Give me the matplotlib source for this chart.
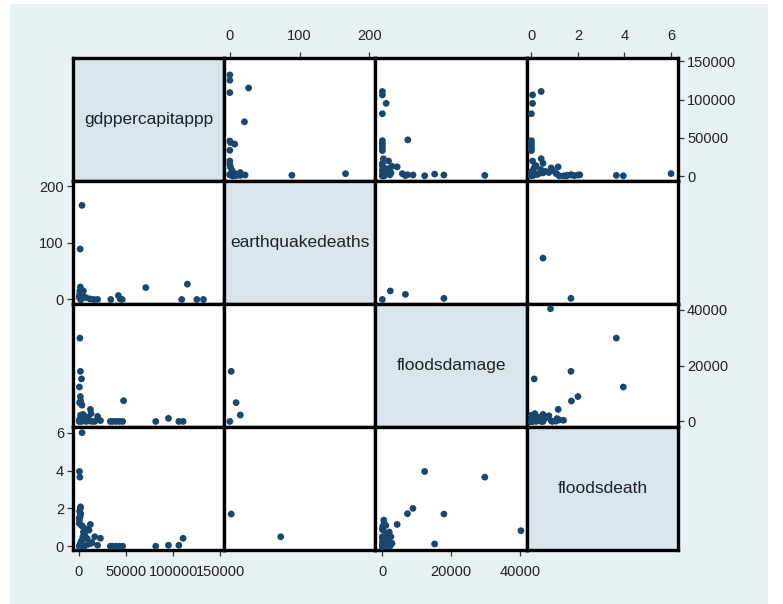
import numpy as np
import matplotlib.pyplot as plt
from matplotlib.patches import Rectangle

nan = np.nan

# variable names (diagonal labels)
names = ["gdppercapitappp", "earthquakedeaths", "floodsdamage", "floodsdeath"]

# one entry per observation, nan = missing (graph matrix drops pairs with a missing value)
gdppercapitappp = [
    3500, 1500, 71000, 115000, 109000, 125000, 132000, 34000, 42000, 46000,
    44000, 1800, 1200, 3000, 5000, 8000, 12000, 16000, 20000, 500,
    2500, 1800, 2000, 1000, 5000, nan,
    1300, 800, 3000, nan, 1800, 2200, 12400, 3600, 47500, 3500,
    110500, 106000, 95000, 81500, 46500, 43000, 39500, 36000, 33500, 23000,
    1000, 700, 1500, 2000,
    600, 1500, 2500, 4000, 4500, 5000, 6500, 9000, 11000, 13000,
    4200, 700, 800, 3000, 17000, 20000, 8000, 2000, 14000, 6000, 10000,
]
earthquakedeaths = [
    166, 89, 21, 27, 0, 0, 0, 0, 7, 0,
    1, 22, 15, 11, 5, 3, 1, 0, 0, 4,
    0, 2, 0, 9, 15, 73,
    nan, nan, nan, nan, nan, nan, nan, nan, nan, nan,
    nan, nan, nan, nan, nan, nan, nan, nan, nan, nan,
    nan, nan, nan, nan,
    nan, nan, nan, nan, nan, nan, nan, nan, nan, nan,
    nan, nan, nan, nan, nan, nan, nan, nan, nan, nan, nan,
]
floodsdamage = [
    nan, nan, nan, nan, nan, nan, nan, nan, nan, nan,
    nan, nan, nan, nan, nan, nan, nan, nan, nan, nan,
    nan, 17900, 0, 6700, 2300, nan,
    29800, 12300, 15200, 40300, 8900, 7300, 4300, nan, 7400, 5800,
    0, 0, 1100, 0, 0, 0, 0, 0, 0, 300,
    nan, nan, nan, nan,
    0, 300, 800, 1500, 2500, 2000, 1200, 600, 200, 2800,
    100, 500, 400, 1000, 0, 1800, 0, 2200, 0, 400, 1500,
]
floodsdeath = [
    nan, nan, nan, nan, nan, nan, nan, nan, nan, nan,
    nan, nan, nan, nan, nan, nan, nan, nan, nan, nan,
    nan, 1.7, nan, nan, nan, 0.5,
    3.65, 3.95, 0.12, 0.82, 2.0, 1.72, 1.15, 6.0, nan, nan,
    0.42, 0.05, 0.05, 0, 0, 0, 0, 0, 0, 0.42,
    1.85, 1.5, 1.55, 2.08,
    0, 0.1, 0.25, 0.35, 0.5, 0.75, 0.6, 0.4, 0.85, 0.15,
    1.05, 1.2, 1.38, 1.1, 0.5, 0.05, 0.9, 0.0, 0.2, 0.0, 0.1,
]

tick_values = [[0, 50000, 100000, 150000], [0, 100, 200], [0, 20000, 40000], [0, 2, 4, 6]]

data = [np.array(v, dtype=float) for v in
        (gdppercapitappp, earthquakedeaths, floodsdamage, floodsdeath)]
limits = [(-6000, 154000), (-8, 209), (-2000, 42000), (-0.2, 6.3)]

plt.rcParams['font.family'] = ['Liberation Sans', 'DejaVu Sans']

fig = plt.figure(figsize=(7.83, 6.04), dpi=100, facecolor='white')
fig.patches.append(Rectangle((10 / 783, 0), 758 / 783, 600 / 604, transform=fig.transFigure,
                             facecolor='#e8f0f3', edgecolor='none', zorder=-1))

axes = fig.subplots(4, 4, gridspec_kw=dict(left=73 / 783, right=678 / 783,
                                           top=1 - 58 / 604, bottom=1 - 550 / 604,
                                           wspace=0, hspace=0))

for i in range(4):          # row -> y variable
    for j in range(4):      # column -> x variable
        ax = axes[i, j]
        for s in ax.spines.values():
            s.set_linewidth(2.4)
            s.set_color('black')
        ax.tick_params(which='both', bottom=False, top=False, left=False, right=False,
                       labelbottom=False, labeltop=False, labelleft=False, labelright=False,
                       length=4.5, width=0.9, color='#333333', labelsize=10.5,
                       labelcolor='#222222')
        ax.set_xlim(limits[j])
        ax.set_ylim(limits[i])
        ax.set_xticks(tick_values[j])
        ax.set_yticks(tick_values[i])
        if i == j:
            ax.set_facecolor('#d9e5ec')
            ax.text(0.5, 0.5, names[i], transform=ax.transAxes, ha='center', va='center',
                    fontsize=12.5, color='#222222')
            continue
        ax.set_facecolor('white')
        x, y = data[j], data[i]
        ok = ~np.isnan(x) & ~np.isnan(y)
        ax.scatter(x[ok], y[ok], s=24, color='#1a476f', edgecolors='none', zorder=3)

        # outer axes, Stata style: alternate sides
        if i == 0 and j in (1, 3):
            ax.tick_params(axis='x', top=True, labeltop=True, pad=6)
        if i == 3 and j in (0, 2):
            ax.tick_params(axis='x', bottom=True, labelbottom=True, pad=6)
        if j == 0 and i in (1, 3):
            ax.tick_params(axis='y', left=True, labelleft=True, pad=2)
        if j == 3 and i in (0, 2):
            ax.tick_params(axis='y', right=True, labelright=True, pad=2)

fig.savefig('out.png', dpi=100, facecolor='white')
